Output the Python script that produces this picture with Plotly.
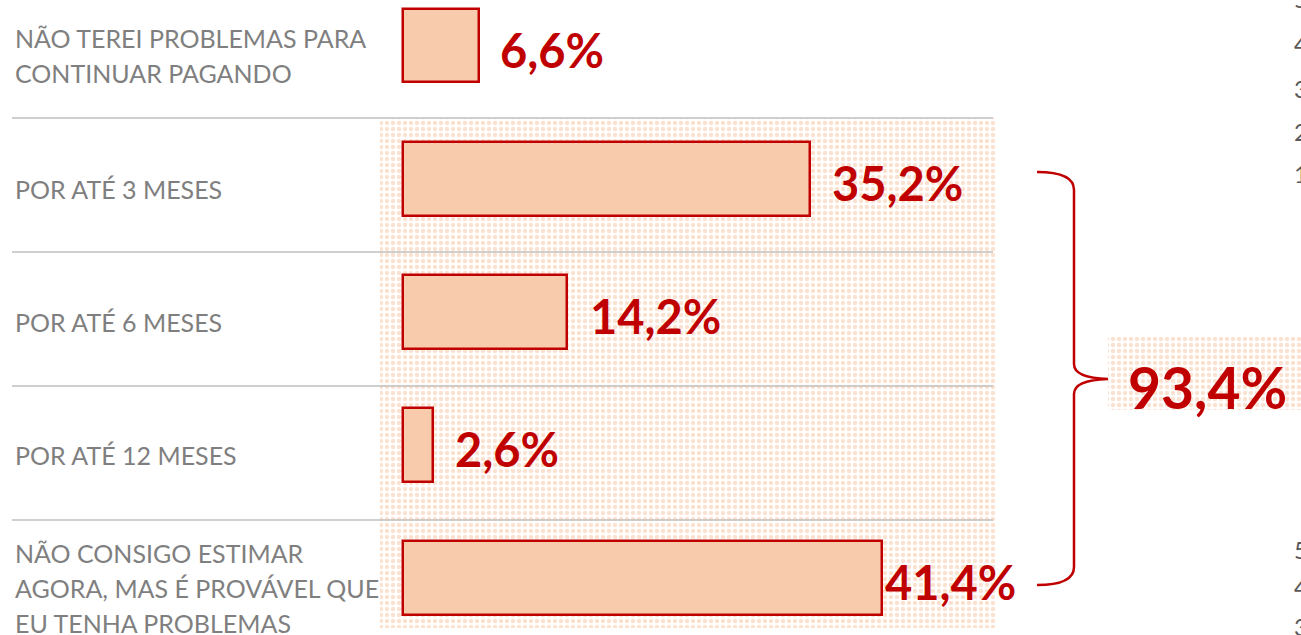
import plotly.graph_objects as go

# ---------------- data ----------------
categories = [
    "NÃO TEREI PROBLEMAS PARA<br>CONTINUAR PAGANDO",
    "POR ATÉ 3 MESES",
    "POR ATÉ 6 MESES",
    "POR ATÉ 12 MESES",
    "NÃO CONSIGO ESTIMAR<br>AGORA, MAS É PROVÁVEL QUE<br>EU TENHA PROBLEMAS",
]
values = [6.6, 35.2, 14.2, 2.6, 41.4]
value_labels = ["6,6%", "35,2%", "14,2%", "2,6%", "41,4%"]
total_label = "93,4%"
edge_ticks_top = ["5", "4", "3", "2", "1"]
edge_ticks_bottom = ["5", "4", "3"]

# ---------------- geometry helpers (pixel mapping) ----------------
W, H = 1301, 635
X0_PX = 403.0          # pixel where bars start
PX_PER_PCT = 11.56
Y0_PX = 45.5           # pixel of first row centre
PX_PER_ROW = 133.2

def xd(px):  # pixel -> data x
    return (px - X0_PX) / PX_PER_PCT

def yd(py):  # pixel -> data y
    return (py - Y0_PX) / PX_PER_ROW

def pxp(px):  # pixel -> paper x
    return px / W

def pyp(py):  # pixel -> paper y
    return 1 - py / H

RED = "#C00000"
FILL = "#F8CBAD"
GREY = "#7F7F7F"
rows = list(range(len(values)))

fig = go.Figure()

# dotted background panels
pattern = dict(shape=".", fgcolor="#F7C4A0", bgcolor="white", size=6, solidity=0.42)
fig.add_trace(go.Bar(
    x=[xd(995) - xd(380)], base=[xd(380)], y=[(yd(118) + yd(628)) / 2],
    width=[yd(628) - yd(118)], orientation="h",
    marker=dict(color="white", pattern=pattern, line=dict(width=0)),
    hoverinfo="skip", showlegend=False,
))
fig.add_trace(go.Bar(
    x=[xd(1310) - xd(1108)], base=[xd(1108)], y=[(yd(337) + yd(410)) / 2],
    width=[yd(410) - yd(337)], orientation="h",
    marker=dict(color="white", pattern=pattern, line=dict(width=0)),
    hoverinfo="skip", showlegend=False,
))

# main bars
fig.add_trace(go.Bar(
    x=values, y=rows, orientation="h", width=0.555,
    marker=dict(color=FILL, line=dict(color=RED, width=2.5)),
    hoverinfo="skip", showlegend=False,
))

annotations = []
# category labels (one annotation per text line for Calibri-like line spacing)
LINE_PX = 35
for i, cat in enumerate(categories):
    lines = cat.split("<br>")
    n = len(lines)
    for k, line in enumerate(lines):
        annotations.append(dict(
            x=pxp(13), xref="paper", y=i, yref="y", text=line, showarrow=False,
            xanchor="left", yanchor="middle", align="left",
            yshift=-10 - (k - (n - 1) / 2) * LINE_PX,
            font=dict(family="Lato", size=25, color=GREY),
        ))
# value labels
label_shift = [19, 20, 21, 20, 1]
for i, (v, lab) in enumerate(zip(values, value_labels)):
    annotations.append(dict(
        x=v, y=i, xref="x", yref="y", text=lab, showarrow=False,
        xanchor="left", yanchor="middle", xshift=label_shift[i], yshift=-4,
        font=dict(family="Lato", size=47, color=RED, weight="bold"),
    ))
# total
annotations.append(dict(
    x=pxp(1126), xref="paper", y=pyp(387), yref="paper", text=total_label,
    showarrow=False, xanchor="left", yanchor="middle",
    font=dict(family="Lato", size=57, color=RED, weight="bold"),
))
# cut-off ticks at right edge
for t, py in zip(edge_ticks_top, [-1, 43, 88, 131, 173]):
    annotations.append(dict(x=pxp(1292), xref="paper", y=pyp(py), yref="paper",
                            text=t, showarrow=False, xanchor="left", yanchor="middle",
                            font=dict(family="Lato", size=24, color="#595959")))
for t, py in zip(edge_ticks_bottom, [549, 586, 626]):
    annotations.append(dict(x=pxp(1292), xref="paper", y=pyp(py), yref="paper",
                            text=t, showarrow=False, xanchor="left", yanchor="middle",
                            font=dict(family="Lato", size=24, color="#595959")))

shapes = []
# separators
for py in [118, 252, 386, 520]:
    shapes.append(dict(type="line", xref="paper", yref="paper",
                       x0=pxp(12), x1=pxp(993), y0=pyp(py), y1=pyp(py),
                       line=dict(color="#BFBFBF", width=1.3)))
# bracket
def P(px, py):
    return f"{pxp(px):.5f},{pyp(py):.5f}"
path = ("M " + P(1037, 172) + " Q " + P(1074, 172) + " " + P(1074, 190) +
        " L " + P(1074, 364) + " Q " + P(1074, 378) + " " + P(1108, 379) +
        " Q " + P(1074, 380) + " " + P(1074, 394) +
        " L " + P(1074, 567) + " Q " + P(1074, 585) + " " + P(1037, 585))
shapes.append(dict(type="path", xref="paper", yref="paper", path=path,
                   line=dict(color=RED, width=2.5)))

fig.update_layout(
    width=W, height=H, margin=dict(l=0, r=0, t=0, b=0),
    paper_bgcolor="white", plot_bgcolor="white",
    barmode="overlay", bargap=0,
    xaxis=dict(range=[xd(0), xd(W)], visible=False, fixedrange=True),
    yaxis=dict(range=[yd(H), yd(0)], visible=False, fixedrange=True),
    annotations=annotations, shapes=shapes,
)

fig.write_html("out.html", config={"displayModeBar": False},
               post_script="document.body.style.margin='0';")
